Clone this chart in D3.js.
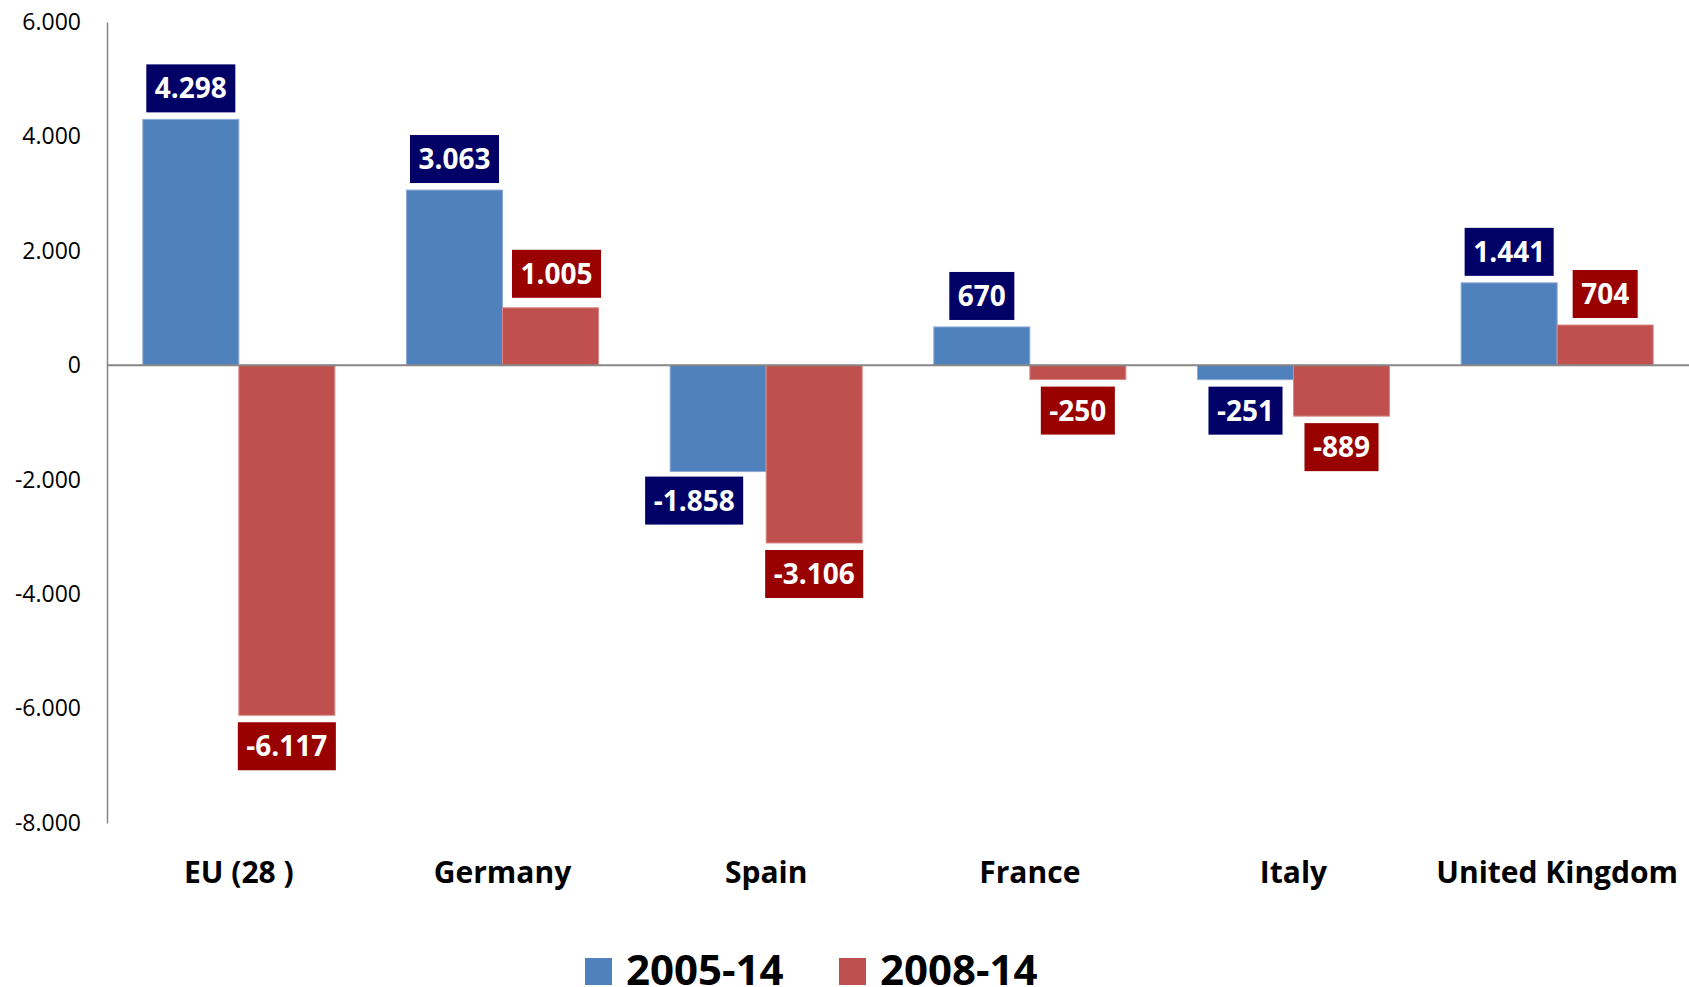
<!DOCTYPE html>
<html>
<head>
<meta charset="utf-8">
<script src="https://cdn.jsdelivr.net/npm/d3@7"></script>
<style>
  html, body { margin: 0; padding: 0; background: #fff; }
  svg { display: block; }
</style>
</head>
<body>
<svg id="chart" width="1689" height="987"></svg>
<script>
// ---- Data ----
const categories = ["EU (28 )", "Germany", "Spain", "France", "Italy", "United Kingdom"];
const seriesNames = ["2005-14", "2008-14"];
const values2005 = [4298, 3063, -1858, 670, -251, 1441];
const values2008 = [-6117, 1005, -3106, -250, -889, 704];
const yTicks = [6000, 4000, 2000, 0, -2000, -4000, -6000, -8000];

(function () {
// ---- Styles ----
const barColors = { "2005-14": "#4F81BD", "2008-14": "#C0504D" };
const boxColors = { "2005-14": "#000066", "2008-14": "#990000" };
// small manual label nudges seen in the reference
const labelNudge = { "Spain|2005-14": [-24, -2], "Germany|2008-14": [6, -3] };

const fmt = v => {
  const s = Math.abs(v).toString();
  const t = s.length > 3 ? s.slice(0, s.length - 3) + "." + s.slice(-3) : s;
  return (v < 0 ? "-" : "") + t;
};

const svg = d3.select("#chart");
const mLeft = 107, mRight = 1689, mTop = 22, mBottom = 823;

const x0 = d3.scaleBand().domain(categories).range([mLeft, mRight]).paddingInner(0).paddingOuter(0);
const x1 = d3.scaleBand().domain(seriesNames).range([0, x0.bandwidth()]).paddingInner(0).paddingOuter(0.373);
const y = d3.scaleLinear().domain([-8000, 6000]).range([mBottom, mTop]);

const rows = [];
categories.forEach((c, i) => {
  rows.push({ cat: c, s: "2005-14", v: values2005[i] });
  rows.push({ cat: c, s: "2008-14", v: values2008[i] });
});

// Y axis
const yAxis = d3.axisLeft(y).tickValues(yTicks).tickSize(0).tickPadding(26).tickFormat(d => d === 0 ? "0" : fmt(d));
const gy = svg.append("g").attr("transform", `translate(${mLeft},0)`).call(yAxis);
gy.select(".domain").attr("stroke", "#868686").attr("stroke-width", 1.5);
gy.selectAll("text").attr("font-family", "'Open Sans', sans-serif").attr("font-size", 23).attr("fill", "#000");

// Bars
svg.append("g").selectAll("rect").data(rows).join("rect")
  .attr("x", d => x0(d.cat) + x1(d.s))
  .attr("width", x1.bandwidth())
  .attr("y", d => Math.min(y(d.v), y(0)))
  .attr("height", d => Math.abs(y(d.v) - y(0)))
  .attr("fill", d => barColors[d.s])
  .attr("stroke", d => d.s === "2005-14" ? "#8EAAD6" : "#D98A88")
  .attr("stroke-width", 1);

// Zero line
svg.append("line").attr("x1", mLeft).attr("x2", mRight).attr("y1", y(0)).attr("y2", y(0))
  .attr("stroke", "#868686").attr("stroke-width", 2);

// Data labels
const lg = svg.append("g");
rows.forEach(d => {
  const nudge = labelNudge[d.cat + "|" + d.s] || [0, 0];
  const cx = x0(d.cat) + x1(d.s) + x1.bandwidth() / 2 + nudge[0];
  const g = lg.append("g");
  const t = g.append("text").text(fmt(d.v))
    .attr("font-family", "'Open Sans', sans-serif").attr("font-weight", 700)
    .attr("font-size", 28).attr("fill", "#fff").attr("text-anchor", "middle");
  const w = t.node().getComputedTextLength() + 17;
  const h = 48;
  const boxTop = d.v >= 0 ? y(d.v) - 7 - h + nudge[1] : y(d.v) + 7 + nudge[1];
  g.insert("rect", "text").attr("x", cx - w / 2).attr("y", boxTop).attr("width", w).attr("height", h)
    .attr("fill", boxColors[d.s]);
  t.attr("x", cx).attr("y", boxTop + h / 2).attr("dy", "0.36em");
});

// Category labels
svg.append("g").selectAll("text").data(categories).join("text")
  .attr("x", d => x0(d) + x0.bandwidth() / 2)
  .attr("y", 883)
  .attr("text-anchor", "middle")
  .attr("font-family", "'Open Sans', sans-serif").attr("font-weight", 700)
  .attr("font-size", 30).attr("fill", "#000")
  .text(d => d);

// Legend
const legendX = [585, 839];
const leg = svg.append("g");
seriesNames.forEach((s, i) => {
  leg.append("rect").attr("x", legendX[i]).attr("y", 958).attr("width", 27).attr("height", 27).attr("fill", barColors[s]);
  leg.append("text").attr("x", legendX[i] + 41).attr("y", 985)
    .attr("font-family", "'Open Sans', sans-serif").attr("font-weight", 700)
    .attr("font-size", 42).attr("fill", "#000").text(s);
});
})();
</script>
</body>
</html>
